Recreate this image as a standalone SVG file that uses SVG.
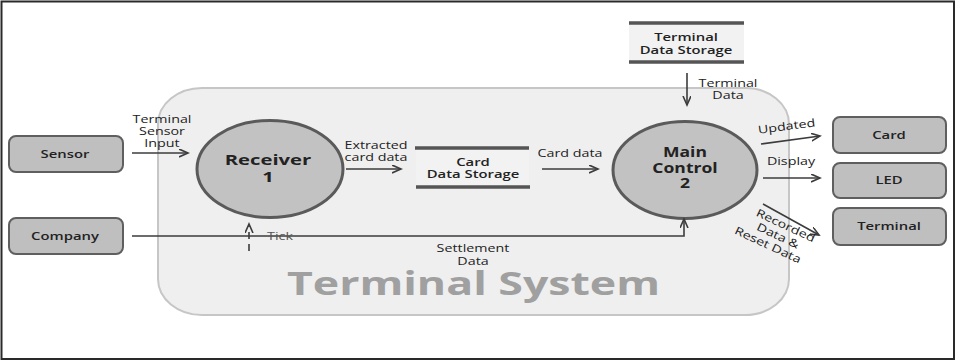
<svg xmlns="http://www.w3.org/2000/svg" width="956" height="361" viewBox="0 0 956 361">
<defs>
<style>
text{font-family:"Open Sans","DejaVu Sans",sans-serif;fill:#222;text-anchor:middle}
.lbl{font-size:11px}
.box{fill:#bfbfbf;stroke:#5f5f5f;stroke-width:2}
.boxt{font-size:11px;font-weight:600}
.proc{fill:#c2c2c2;stroke:#5a5a5a;stroke-width:3}
.proct{font-weight:700}
.store{fill:#f2f2f2}
.sline{stroke:#555;stroke-width:3.5}
.con{fill:none;stroke:#3c3c3c;stroke-width:1.6}
.arr{marker-end:url(#ah)}
.title{font-size:32px;font-weight:700;fill:#a0a0a0;text-anchor:start}
</style>
<marker id="ah" markerUnits="userSpaceOnUse" markerWidth="12" markerHeight="10" refX="9" refY="4" orient="auto">
<path d="M0,0 L9,4 L0,8" fill="none" stroke="#3c3c3c" stroke-width="1.6"/>
</marker>
</defs>
<rect x="0" y="0" width="956" height="361" fill="#fff"/>
<rect x="1.5" y="1.5" width="952.5" height="357.5" fill="none" stroke="#2a2a2a" stroke-width="2"/>

<g id="terminal-system">
<rect x="158" y="88" width="631" height="227" rx="44" ry="36" fill="#efefef" stroke="#c6c6c6" stroke-width="2"/>
<text class="title" x="287" y="295" textLength="373" lengthAdjust="spacingAndGlyphs">Terminal System</text>
</g>

<g id="sensor">
<rect class="box" x="9" y="136" width="114" height="36" rx="7"/>
<text class="boxt" transform="translate(65,158) scale(1.35,1)">Sensor</text>
</g>
<g id="company">
<rect class="box" x="9" y="218" width="114" height="36" rx="7"/>
<text class="boxt" transform="translate(65,240) scale(1.35,1)">Company</text>
</g>

<g id="receiver">
<ellipse class="proc" cx="270" cy="169" rx="73" ry="48.5"/>
<text class="proct" font-size="15" transform="translate(268,165) scale(1.35,1)"><tspan x="0">Receiver</tspan><tspan x="0" dy="17">1</tspan></text>
</g>

<g id="card-data-storage">
<rect class="store" x="416" y="149" width="113" height="38"/>
<line class="sline" x1="415" y1="148" x2="529" y2="148"/>
<line class="sline" x1="416" y1="187" x2="530" y2="187"/>
<text class="boxt" transform="translate(473,166) scale(1.35,1)"><tspan x="0">Card</tspan><tspan x="0" dy="12.5">Data Storage</tspan></text>
</g>

<g id="main-control">
<ellipse class="proc" cx="685" cy="170" rx="72" ry="48.5"/>
<text class="proct" font-size="13.5" transform="translate(685,157) scale(1.3,1)"><tspan x="0">Main</tspan><tspan x="0" dy="16">Control</tspan><tspan x="0" dy="15">2</tspan></text>
</g>

<g id="terminal-data-storage">
<rect class="store" x="629" y="24" width="115" height="38"/>
<line class="sline" x1="629" y1="23" x2="744" y2="23"/>
<line class="sline" x1="629" y1="62" x2="744" y2="62"/>
<text class="boxt" transform="translate(686,41) scale(1.35,1)"><tspan x="0">Terminal</tspan><tspan x="0" dy="13">Data Storage</tspan></text>
</g>

<g id="card">
<rect class="box" x="833" y="117" width="113" height="36" rx="7"/>
<text class="boxt" transform="translate(889,139) scale(1.35,1)">Card</text>
</g>
<g id="led">
<rect class="box" x="833" y="163" width="113" height="35" rx="7"/>
<text class="boxt" transform="translate(889,184) scale(1.35,1)">LED</text>
</g>
<g id="terminal">
<rect class="box" x="833" y="208" width="113" height="37" rx="7"/>
<text class="boxt" transform="translate(889,230) scale(1.35,1)">Terminal</text>
</g>

<g id="connectors">
<line class="con arr" x1="132" y1="153" x2="188" y2="153"/>
<text class="lbl" transform="translate(162,123) scale(1.3,1)"><tspan x="0">Terminal</tspan><tspan x="0" dy="12.5">Sensor</tspan><tspan x="0" dy="11.5">Input</tspan></text>

<polyline class="con arr" points="132,236 684,236 684,219"/>
<text class="lbl" transform="translate(473,252) scale(1.3,1)"><tspan x="0">Settlement</tspan><tspan x="0" dy="13">Data</tspan></text>

<line class="con arr" x1="249" y1="251" x2="249" y2="224" stroke-dasharray="7,5"/>
<text class="lbl" transform="translate(280,240) scale(1.3,1)" style="fill:#555">Tick</text>

<line class="con arr" x1="346" y1="169" x2="401" y2="169"/>
<text class="lbl" transform="translate(376,149) scale(1.3,1)"><tspan x="0">Extracted</tspan><tspan x="0" dy="12">card data</tspan></text>

<line class="con arr" x1="542" y1="169" x2="598" y2="169"/>
<text class="lbl" transform="translate(570,157) scale(1.3,1)">Card data</text>

<line class="con arr" x1="687" y1="73" x2="687" y2="105"/>
<text class="lbl" transform="translate(728,87) scale(1.3,1)"><tspan x="0">Terminal</tspan><tspan x="0" dy="12">Data</tspan></text>

<line class="con arr" x1="761" y1="144" x2="820" y2="136"/>
<text class="lbl" transform="translate(787,130) rotate(-7.5) scale(1.3,1)">Updated</text>

<line class="con arr" x1="763" y1="178" x2="820" y2="178"/>
<text class="lbl" transform="translate(791,165) scale(1.3,1)">Display</text>

<line class="con arr" x1="763" y1="204" x2="819" y2="235"/>
<text class="lbl" transform="translate(784,229) rotate(25) scale(1.3,1)"><tspan x="0">Recorded</tspan><tspan x="-2" dy="12.5">Data &amp;</tspan><tspan x="-6" dy="12.5">Reset Data</tspan></text>
</g>
</svg>
